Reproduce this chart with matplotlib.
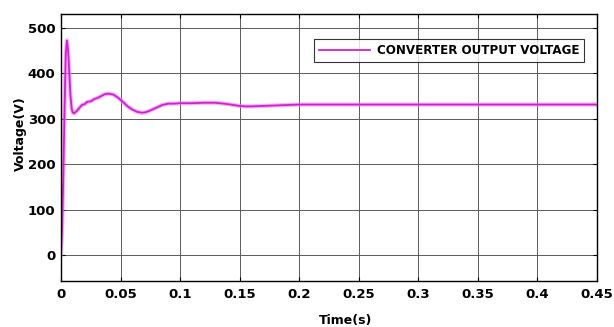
import numpy as np
import matplotlib.pyplot as plt

plt.rcParams['font.family'] = ['DejaVu Sans']
plt.rcParams['font.weight'] = 'bold'

# waveform (time in s, voltage in V)
tiempo = [0.0, 0.001, 0.002, 0.003, 0.004, 0.005, 0.006, 0.007, 0.008, 0.009,
          0.010, 0.011, 0.013, 0.015, 0.0175, 0.020, 0.022, 0.025, 0.028,
          0.031, 0.034, 0.037, 0.040, 0.044, 0.048, 0.052, 0.056, 0.060,
          0.064, 0.068, 0.071, 0.075, 0.080, 0.085, 0.090, 0.095, 0.100,
          0.110, 0.120, 0.130, 0.140, 0.150, 0.155, 0.160, 0.170, 0.180,
          0.200, 0.250, 0.300, 0.350, 0.400, 0.450]
voltaje = [0, 60, 180, 320, 440, 472, 450, 400, 350, 322,
           313, 312, 316, 322, 330, 332, 337, 338, 343,
           346, 350, 354, 355, 353, 346, 337, 327, 320,
           315, 313, 314, 318, 324, 330, 333, 333, 334,
           334, 335, 335, 332, 328, 327, 327, 328, 329,
           331, 331, 331, 331, 331, 331]

ticks_x = [0, 0.05, 0.1, 0.15, 0.2, 0.25, 0.3, 0.35, 0.4, 0.45]
etiquetas_x = ['0', '0.05', '0.1', '0.15', '0.2', '0.25', '0.3', '0.35', '0.4', '0.45']
ticks_y = [0, 100, 200, 300, 400, 500]

fig = plt.figure(figsize=(6.14, 3.27), dpi=100)
ax = fig.add_axes([0.0993, 0.142, 0.8727, 0.815])

# soft glow under the trace, like the blurred original
ax.plot(tiempo, voltaje, color='#f080f0', linewidth=3.0, alpha=0.6)
ax.plot(tiempo, voltaje, color='#d020d0', linewidth=1.3,
        label='CONVERTER OUTPUT VOLTAGE')

ax.set_xlim(0, 0.45)
ax.set_ylim(-56, 530)
ax.set_xticks(ticks_x)
ax.set_xticklabels(etiquetas_x)
ax.set_yticks(ticks_y)
ax.grid(True, color='#5a5a5a', linewidth=0.7)
ax.set_axisbelow(True)
ax.tick_params(direction='in', top=True, right=True, labelsize=9.5,
               length=3)
ax.tick_params(axis='x', pad=5)
ax.tick_params(axis='y', pad=4)
for s in ax.spines.values():
    s.set_linewidth(1.0)

ax.set_xlabel('Time(s)', fontsize=9, fontweight='bold')
ax.set_ylabel('Voltage(V)', fontsize=9, fontweight='bold')
ax.xaxis.set_label_coords(0.532, -0.124)
ax.yaxis.set_label_coords(-0.063, 0.55)

leg = ax.legend(loc='upper right', bbox_to_anchor=(0.976, 0.906),
                borderaxespad=0, prop={'size': 8.6, 'weight': 'bold'},
                frameon=True, fancybox=False, edgecolor='black',
                handlelength=4.3, borderpad=0.4, handletextpad=0.55)
leg.get_frame().set_linewidth(0.8)

fig.savefig('out.png', dpi=100)
